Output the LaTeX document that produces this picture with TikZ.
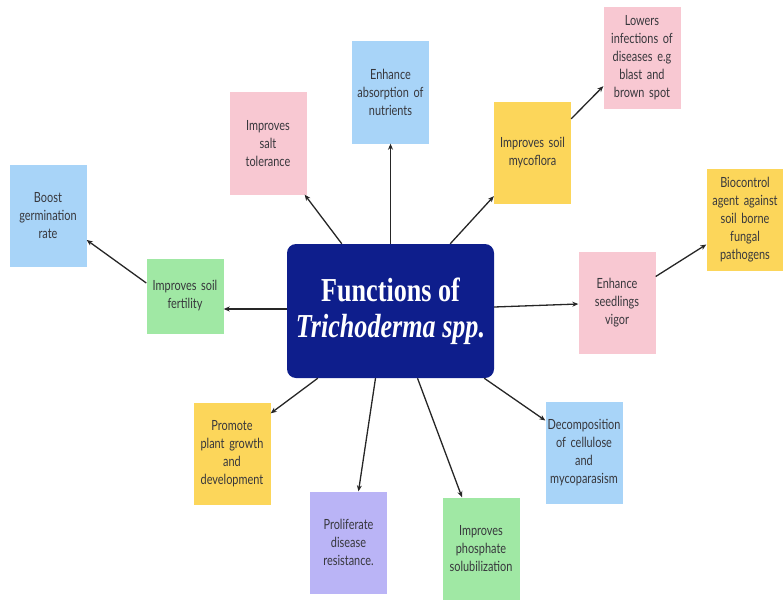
\documentclass[tikz,border=0pt]{standalone}
\usepackage{fontspec}
\setmainfont{Lato}[FakeStretch=0.78]
\newfontfamily\titlefont{Liberation Serif}[FakeStretch=0.78]
\usetikzlibrary{arrows.meta,calc}
\definecolor{bxblue}{RGB}{168,212,248}
\definecolor{bxpink}{RGB}{248,200,210}
\definecolor{bxyellow}{RGB}{252,214,90}
\definecolor{bxgreen}{RGB}{160,232,164}
\definecolor{bxpurple}{RGB}{186,180,246}
\definecolor{navy}{RGB}{14,30,140}
\definecolor{txt}{RGB}{55,55,60}
\tikzset{
  card/.style={inner sep=0pt, minimum width=77pt, minimum height=102pt, text width=77pt,
    align=center, font=\fontsize{14}{18}\selectfont, text=txt},
  conn/.style={-{Stealth[length=6pt,width=5pt]}, line width=1.3pt, draw=black!85}
}
\begin{document}
\begin{tikzpicture}[x=1pt,y=-1pt]
\useasboundingbox (0,0) rectangle (783,599);
\node[fill=navy, rounded corners=9pt, minimum width=207pt, minimum height=134pt, inner sep=0pt,
  align=center, text=white, font=\titlefont\bfseries\fontsize{33.5}{36}\selectfont] (c) at (390.5,311)
  {Functions of\\\textit{Trichoderma spp.}};
\node[card, fill=bxblue] (germ) at (48,216) {Boost\\germination\\rate};
\node[card, fill=bxgreen, minimum height=75pt] (fert) at (185,296) {Improves soil\\fertility};
\node[card, fill=bxpink] (salt) at (268,143.5) {Improves\\salt\\tolerance};
\node[card, fill=bxblue] (nutr) at (390.5,92.5) {Enhance\\absorption of\\nutrients};
\node[card, fill=bxyellow] (myco) at (532.5,153) {Improves soil\\mycoflora};
\node[card, fill=bxpink] (lower) at (642,58) {Lowers\\infections of\\diseases e.g\\blast and\\brown spot};
\node[card, fill=bxyellow] (bio) at (745,219.5) {Biocontrol\\agent against\\soil borne\\fungal\\pathogens};
\node[card, fill=bxpink] (seed) at (617,302.5) {Enhance\\seedlings\\vigor};
\node[card, fill=bxblue] (decomp) at (584,452.5) {Decomposition\\of cellulose\\and\\mycoparasism};
\node[card, fill=bxgreen] (phos) at (481,548.5) {Improves\\phosphate\\solubilization};
\node[card, fill=bxpurple] (prolif) at (348.5,542.5) {Proliferate\\disease\\resistance.};
\node[card, fill=bxyellow] (promo) at (232,453.5) {Promote\\plant growth\\and\\development};

\draw[conn] ([yshift=2pt]c.west) -- ([yshift=-13pt]fert.east);
\draw[conn] ([yshift=13pt]fert.west) -- ([yshift=-24pt]germ.east);
\draw[conn] ([xshift=55pt]c.north west) -- ([xshift=-2pt]salt.south east);
\draw[conn] (c.north) -- (nutr.south);
\draw[conn] ([xshift=-44pt]c.north east) -- ([yshift=8pt]myco.south west);
\draw[conn] ([yshift=-17pt]myco.north east) -- ([yshift=23pt]lower.south west);
\draw[conn] ([yshift=4pt]c.east) -- ([yshift=-1.5pt]seed.west);
\draw[conn] ([yshift=26pt]seed.east) -- ([yshift=-25pt]bio.west);
\draw[conn] ([xshift=-10pt]c.south east) -- ([yshift=32pt]decomp.west);
\draw[conn] ([xshift=27pt]c.south) -- ([xshift=-19pt]phos.north);
\draw[conn] ([xshift=-15pt]c.south) -- ([xshift=10pt]prolif.north);
\draw[conn] ([xshift=31pt]c.south west) -- ([yshift=-11pt]promo.north east);
\end{tikzpicture}
\end{document}
